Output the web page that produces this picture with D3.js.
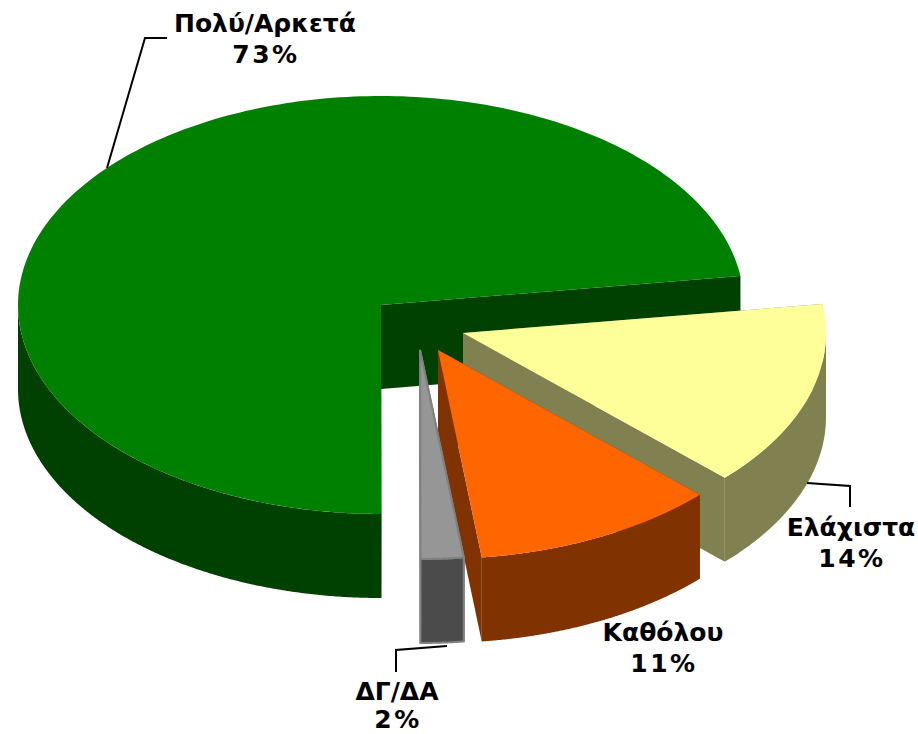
<!DOCTYPE html>
<html><head><meta charset="utf-8">
<script src="https://cdn.jsdelivr.net/npm/d3@7"></script>
<style>html,body{margin:0;padding:0;background:#fff}svg{display:block}text{font-family:"DejaVu Sans",Verdana,sans-serif;font-weight:bold;font-size:25px;fill:#000}</style>
</head><body><svg id="c" width="918" height="734"></svg>
<script>
const categories = ["Ελάχιστα","Καθόλου","ΔΓ/ΔΑ","Πολύ/Αρκετά"];
const values = [14.4,10.9,1.9,72.8];
const topColors = ["#FFFF99","#FF6600","#969696","#008000"];
const sideColors = ["#808050","#803300","#4B4B4B","#004000"];
const strokeColors = ["none","none","#808080","none"];
const apexes = [[463,333],[438,350],[420,350],[381,305]];
const leaders = [[[807,483],[850,486],[850,507]],[],[[447,646],[396,650],[396,672]],[[107,168],[145,38],[167,38]]];
const labelPos = [[851,536],[663,641],[397,700],[265,32]];
const lineGaps = [31,31,28,31];
const drawOrder = [3,0,1,2];
const rx=363, ry=209, depth=84, startAngle=82*Math.PI/180;

const svg=d3.select("#c");
const arcs=d3.pie().sort(null).startAngle(startAngle).endAngle(startAngle+2*Math.PI)(values);
const sx=d3.scaleLinear().domain([0,1]).range([0,rx]);
const sy=d3.scaleLinear().domain([0,1]).range([0,-ry]);
const pt=(i,a,dz=0)=>[apexes[i][0]+sx(Math.sin(a)),apexes[i][1]+sy(Math.cos(a))+dz];
const line=d3.line();
const steps=(a,b)=>d3.range(0,241).map(k=>a+(b-a)*k/240);
const pct=d3.format(".0f");

drawOrder.forEach(i=>{
  const d=arcs[i], a0=d.startAngle, a1=d.endAngle, ap=apexes[i];
  const g=svg.append("g");
  const st=strokeColors[i], sw=st==="none"?0:2;
  [a0,a1].forEach(a=>{
    const p=pt(i,a);
    g.append("path").attr("d",line([ap,p,[p[0],p[1]+depth],[ap[0],ap[1]+depth]])+"Z")
      .attr("fill",sideColors[i]).attr("stroke",st).attr("stroke-width",sw);
  });
  const lo=Math.max(a0,Math.PI/2), hi=Math.min(a1,3*Math.PI/2);
  if(hi>lo){
    const rim=steps(lo,hi);
    const pts=rim.map(a=>pt(i,a)).concat(rim.slice().reverse().map(a=>pt(i,a,depth)));
    g.append("path").attr("d",line(pts)+"Z").attr("fill",sideColors[i]).attr("stroke",st).attr("stroke-width",sw);
  }
  const top=[ap].concat(steps(a0,a1).map(a=>pt(i,a)));
  g.append("path").attr("d",line(top)+"Z").attr("fill",topColors[i]).attr("stroke",st).attr("stroke-width",sw);
});

categories.forEach((c,i)=>{
  if(leaders[i].length) svg.append("path").attr("d",line(leaders[i])).attr("fill","none").attr("stroke","#000").attr("stroke-width",2);
  const t=svg.append("text").attr("text-anchor","middle").attr("x",labelPos[i][0]).attr("y",labelPos[i][1]);
  t.append("tspan").attr("x",labelPos[i][0]).text(c);
  t.append("tspan").attr("x",labelPos[i][0]+1).attr("dy",lineGaps[i]).style("letter-spacing","2.5px").text(pct(values[i])+"%");
});
</script></body></html>
